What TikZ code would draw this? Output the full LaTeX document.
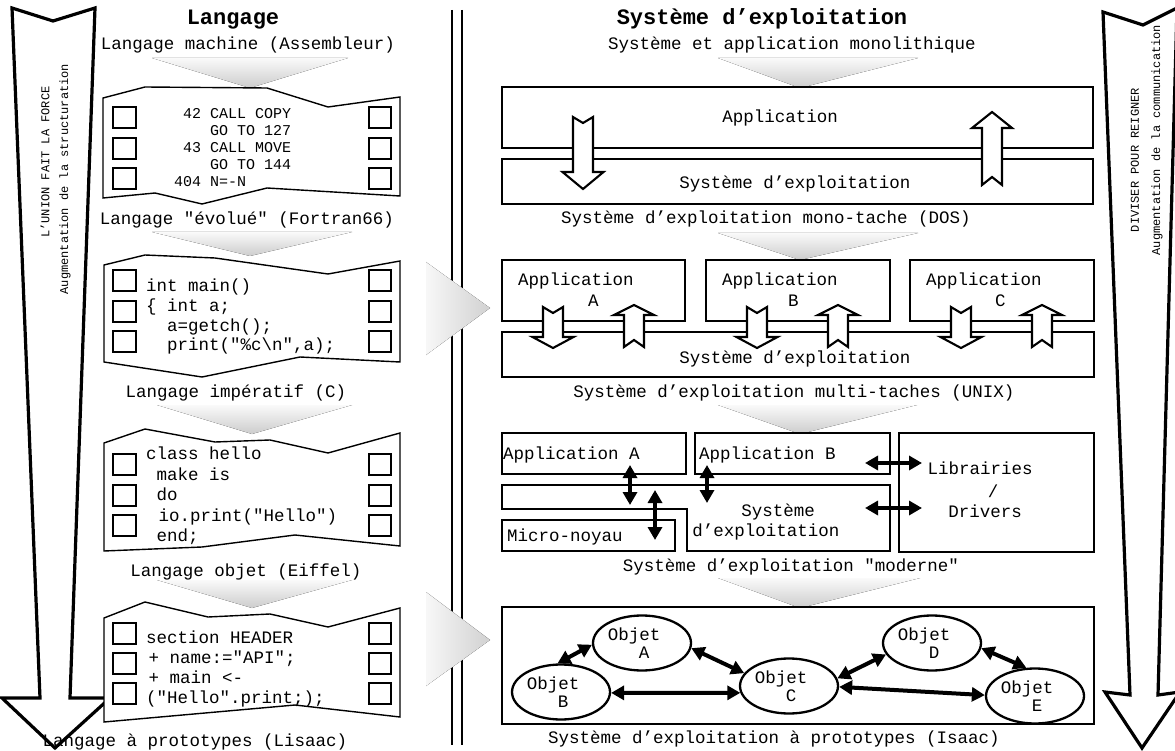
\documentclass[tikz,border=0pt]{standalone}
\usepackage{fontspec}
\setmonofont{Liberation Mono}
\renewcommand{\familydefault}{\ttdefault}
\usetikzlibrary{arrows.meta,shapes.geometric}
\frenchspacing
\newcommand{\blkdown}[5]{\draw[blk] (#1-10,#2) -- (#1,#3) -- (#1+10,#2) -- (#1+10,#4) -- (#1+20.5,#4) -- (#1,#5) -- (#1-20.5,#4) -- (#1-10,#4) -- cycle;}
\newcommand{\blkup}[5]{\draw[blk] (#1-10,#2) -- (#1,#3) -- (#1+10,#2) -- (#1+10,#4) -- (#1+20,#4) -- (#1,#5) -- (#1-20,#4) -- (#1-10,#4) -- cycle;}
\tikzset{
  captxt/.style={font=\fontsize{17.5}{18}\selectfont, anchor=base, inner sep=0pt},
  lefttxt/.style={font=\fontsize{17.5}{18}\selectfont, anchor=base west, inner sep=0pt},
  asmtxt/.style={font=\fontsize{15}{16}\selectfont, anchor=base west, inner sep=0pt},
  ttl/.style={font=\bfseries\fontsize{22}{24}\selectfont, anchor=base, inner sep=0pt},
  rot/.style={font=\fontsize{12}{12}\selectfont, rotate=90, anchor=center, inner sep=0pt},
  bigbox/.style={draw, line width=2.6pt, fill=white},
  card/.style={draw, line width=1.4pt, fill=white, line join=miter},
  hole/.style={draw, line width=1.3pt},
  blk/.style={draw, line width=2.1pt, fill=white, line join=miter},
  bigarrow/.style={draw, line width=3.2pt, line join=miter},
  sep/.style={line width=2.5pt},
  shadedown/.style={top color=gray!4, bottom color=gray!40, draw=none},
  shaderight/.style={left color=gray!6, right color=gray!36, draw=none},
  dbl/.style={line width=4pt, {Triangle[length=13pt,width=14pt]}-{Triangle[length=13pt,width=14pt]}},
  obj/.style={ellipse, draw, line width=2.3pt, minimum width=98pt, minimum height=55pt, inner sep=0pt, align=left, font=\fontsize{17.5}{18}\selectfont, fill=white},
}
\begin{document}
\begin{tikzpicture}[x=1pt,y=-1pt]
\useasboundingbox (0,0) rectangle (1175,751);
\fill[white] (0,0) rectangle (1175,751);

% separators
\draw[sep] (452,10) -- (452,745);
\draw[sep] (462,10) -- (462,745);

% big side arrows
\draw[bigarrow] (12,8) -- (53,21) -- (95,8) -- (70,698) -- (110,698) -- (55,748) -- (2,698) -- (40,698) -- cycle;
\draw[bigarrow] (1103,12) -- (1143,25) -- (1177,8) -- (1158,695) -- (1180,692) -- (1142,748) -- (1105,692) -- (1130,695) -- cycle;
\node[rot] (lu1) at (45,162) {L’UNION FAIT LA FORCE};
\node[rot] (lu2) at (65,179) {Augmentation de la structuration};
\node[rot] (ru1) at (1135,160) {DIVISER POUR REIGNER};
\node[rot] (ru2) at (1157,140) {Augmentation de la communication};

% shading triangles
\fill[shadedown] (152,58) -- (348,58) -- (250,88) -- cycle;
\fill[shadedown] (152,232) -- (352,232) -- (250,256) -- cycle;
\fill[shadedown] (157,405) -- (352,405) -- (252,434) -- cycle;
\fill[shadedown] (157,580) -- (352,580) -- (252,608) -- cycle;
\fill[shadedown] (718,58) -- (918,58) -- (800,88) -- cycle;
\fill[shadedown] (718,233) -- (918,233) -- (800,260) -- cycle;
\fill[shadedown] (718,405) -- (917,405) -- (800,434) -- cycle;
\fill[shadedown] (718,578) -- (920,578) -- (800,608) -- cycle;
\fill[white] (426,262) -- (426,355) -- (490,308) -- cycle;
\fill[shaderight] (426,262) -- (426,355) -- (490,308) -- cycle;
\fill[white] (426,592) -- (426,686) -- (490,640) -- cycle;
\fill[shaderight] (426,592) -- (426,686) -- (490,640) -- cycle;

% titles
\node[ttl] (t1) at (233,25) {Langage};
\node[ttl] (t2) at (762,25) {Système d’exploitation};

% left captions
\node[captxt] (c1) at (248,50) {Langage machine (Assembleur)};
\node[captxt] (c2) at (247,225) {Langage "évolué" (Fortran66)};
\node[captxt] (c3) at (236,397) {Langage impératif (C)};
\node[captxt] (c4) at (246,576) {Langage objet (Eiffel)};
\node[captxt] (c5) at (195,746) {Langage à prototypes (Lisaac)};

% right captions
\node[captxt] (r0) at (792,50) {Système et application monolithique};
\node[captxt] (r1) at (766,224) {Système d’exploitation mono-tache (DOS)};
\node[captxt] (r2) at (794,397) {Système d’exploitation multi-taches (UNIX)};
\node[captxt] (r3) at (791,571) {Système d’exploitation "moderne"};
\node[captxt] (r4) at (774,743) {Système d’exploitation à prototypes (Isaac)};

% cards
\draw[card] (103,98) -- (145,87) -- (267,88) -- (328,107) -- (400,97) -- (400,196) -- (267,188) -- (202,204) -- (155,193) -- (103,198) -- cycle;
\draw[card] (104,265) -- (145,255) -- (215,258) -- (328,274) -- (400,261) -- (400,362) -- (300,357) -- (202,377) -- (104,362) -- cycle;
\draw[card] (104,443) -- (145,429) -- (215,442) -- (270,440) -- (328,453) -- (400,433) -- (400,546) -- (295,535) -- (202,547) -- (104,551) -- cycle;
\draw[card] (104,618) -- (145,602) -- (208,617) -- (270,614) -- (328,627) -- (400,608) -- (400,717) -- (295,705) -- (205,713) -- (104,722) -- cycle;
\foreach \y in {107,138,168, 270,301,331, 454,485,515, 623,653,683}{
  \draw[hole] (113,\y) rectangle (136,\y+21);
  \draw[hole] (369,\y) rectangle (391,\y+21);
}

% code
\node[asmtxt] (a1) at (174,119) {\hphantom{0}42 CALL COPY};
\node[asmtxt] (a2) at (174,136) {\hphantom{0000}GO TO 127};
\node[asmtxt] (a3) at (174,153) {\hphantom{0}43 CALL MOVE};
\node[asmtxt] (a4) at (174,170) {\hphantom{0000}GO TO 144};
\node[asmtxt] (a5) at (174,187) {404 N=-N};

\node[lefttxt] (b1) at (146,292) {int main()};
\node[lefttxt] (b2) at (146,312) {\{ int a;};
\node[lefttxt] (b3) at (146,331) {\hphantom{00}a=getch();};
\node[lefttxt] (b4) at (146,350) {\hphantom{00}print("\%c\textbackslash n",a);};

\node[lefttxt] (e1) at (146,459) {class hello};
\node[lefttxt] (e2) at (146,480) {\hphantom{0}make is};
\node[lefttxt] (e3) at (146,500) {\hphantom{0}do};
\node[lefttxt] (e4) at (146,521) {\hphantom{0}\hspace*{2pt}io.print("Hello")};
\node[lefttxt] (e5) at (146,541) {\hphantom{0}end;};

\node[lefttxt] (l1) at (146,643) {section HEADER};
\node[lefttxt] (l2) at (146,663) {\hspace*{2.5pt}+ name:="API";};
\node[lefttxt] (l3) at (146,683) {\hspace*{2.5pt}+ main <-};
\node[lefttxt] (l4) at (146,703) {("Hello".print;);};

% right row 1
\draw[bigbox] (502,87) rectangle (1093,148);
\draw[bigbox] (502,159) rectangle (1093,204);
\blkdown{583}{117}{123}{172}{189}
\blkup{992}{185}{177}{128}{112}
\node[captxt] (app) at (780,123) {Application};
\node[captxt] (os1) at (795,189) {Système d’exploitation};

% right row 2
\draw[bigbox] (502,260) rectangle (685,321);
\draw[bigbox] (706,260) rectangle (890,321);
\draw[bigbox] (910,260) rectangle (1094,321);
\draw[bigbox] (502,332) rectangle (1094,377);
\foreach \c in {553,757,961}{\blkdown{\c}{307}{313}{337}{348}}
\foreach \c in {634,838,1042}{\blkup{\c}{347}{340}{315}{305}}
\node[lefttxt] (pa1) at (518,286) {Application};
\node[lefttxt] (pa2) at (588,306) {A};
\node[lefttxt] (pb1) at (722,286) {Application};
\node[lefttxt] (pb2) at (788,306) {B};
\node[lefttxt] (pc1) at (926,286) {Application};
\node[lefttxt] (pc2) at (995,306) {C};
\node[captxt] (os2) at (795,363) {Système d’exploitation};

% right row 3
\draw[bigbox] (502,433) rectangle (686,474);
\draw[bigbox] (695,433) rectangle (890,474);
\draw[bigbox] (502,485) -- (890,485) -- (890,551) -- (687,551) -- (687,509) -- (502,509) -- cycle;
\draw[bigbox] (502,520) rectangle (675,551);
\draw[bigbox] (899,433) rectangle (1094,552);
\node[lefttxt] (ma) at (503,459) {Application A};
\node[lefttxt] (mb) at (699,459) {Application B};
\node[captxt] (mos1) at (778,516) {Système};
\node[captxt] (mos2) at (766,536) {d’exploitation};
\node[lefttxt] (mk) at (507,541) {Micro-noyau};
\node[captxt] (lib1) at (980,474) {Librairies};
\node[captxt] (lib2) at (993,497) {/};
\node[captxt] (lib3) at (985,517) {Drivers};
\coordinate (v1a) at (630,465); \coordinate (v1b) at (630,505);
\coordinate (v2a) at (707,465); \coordinate (v2b) at (707,503);
\coordinate (v3a) at (655,490); \coordinate (v3b) at (655,540);
\coordinate (h1a) at (865,463); \coordinate (h1b) at (922,463);
\coordinate (h2a) at (865,508); \coordinate (h2b) at (922,508);
\draw[dbl] (v1a) -- (v1b);
\draw[dbl] (v2a) -- (v2b);
\draw[dbl] (v3a) -- (v3b);
\draw[dbl] (h1a) -- (h1b);
\draw[dbl] (h2a) -- (h2b);

% right row 4
\draw[bigbox] (502,607) rectangle (1094,724);
\node[obj] (oa) at (642,643) {Objet\hspace*{16pt}\\\hspace*{31pt}A};
\node[obj] (ob) at (561,692) {Objet\hspace*{16pt}\\\hspace*{31pt}B};
\node[obj] (oc) at (789,686) {Objet\hspace*{16pt}\\\hspace*{31pt}C};
\node[obj] (od) at (932,643) {Objet\hspace*{16pt}\\\hspace*{31pt}D};
\node[obj] (oe) at (1035,696) {Objet\hspace*{16pt}\\\hspace*{31pt}E};
\draw[dbl] (ob.97) -- (oa.182);
\draw[dbl] (oa.-6) -- (oc.164);
\draw[dbl] (ob.-1) -- (oc.188);
\draw[dbl] (oc.9) -- (od.194);
\draw[dbl] (oc.-1) -- (oe.179);
\draw[dbl] (od.-6) -- (oe.107);
\end{tikzpicture}
\end{document}
